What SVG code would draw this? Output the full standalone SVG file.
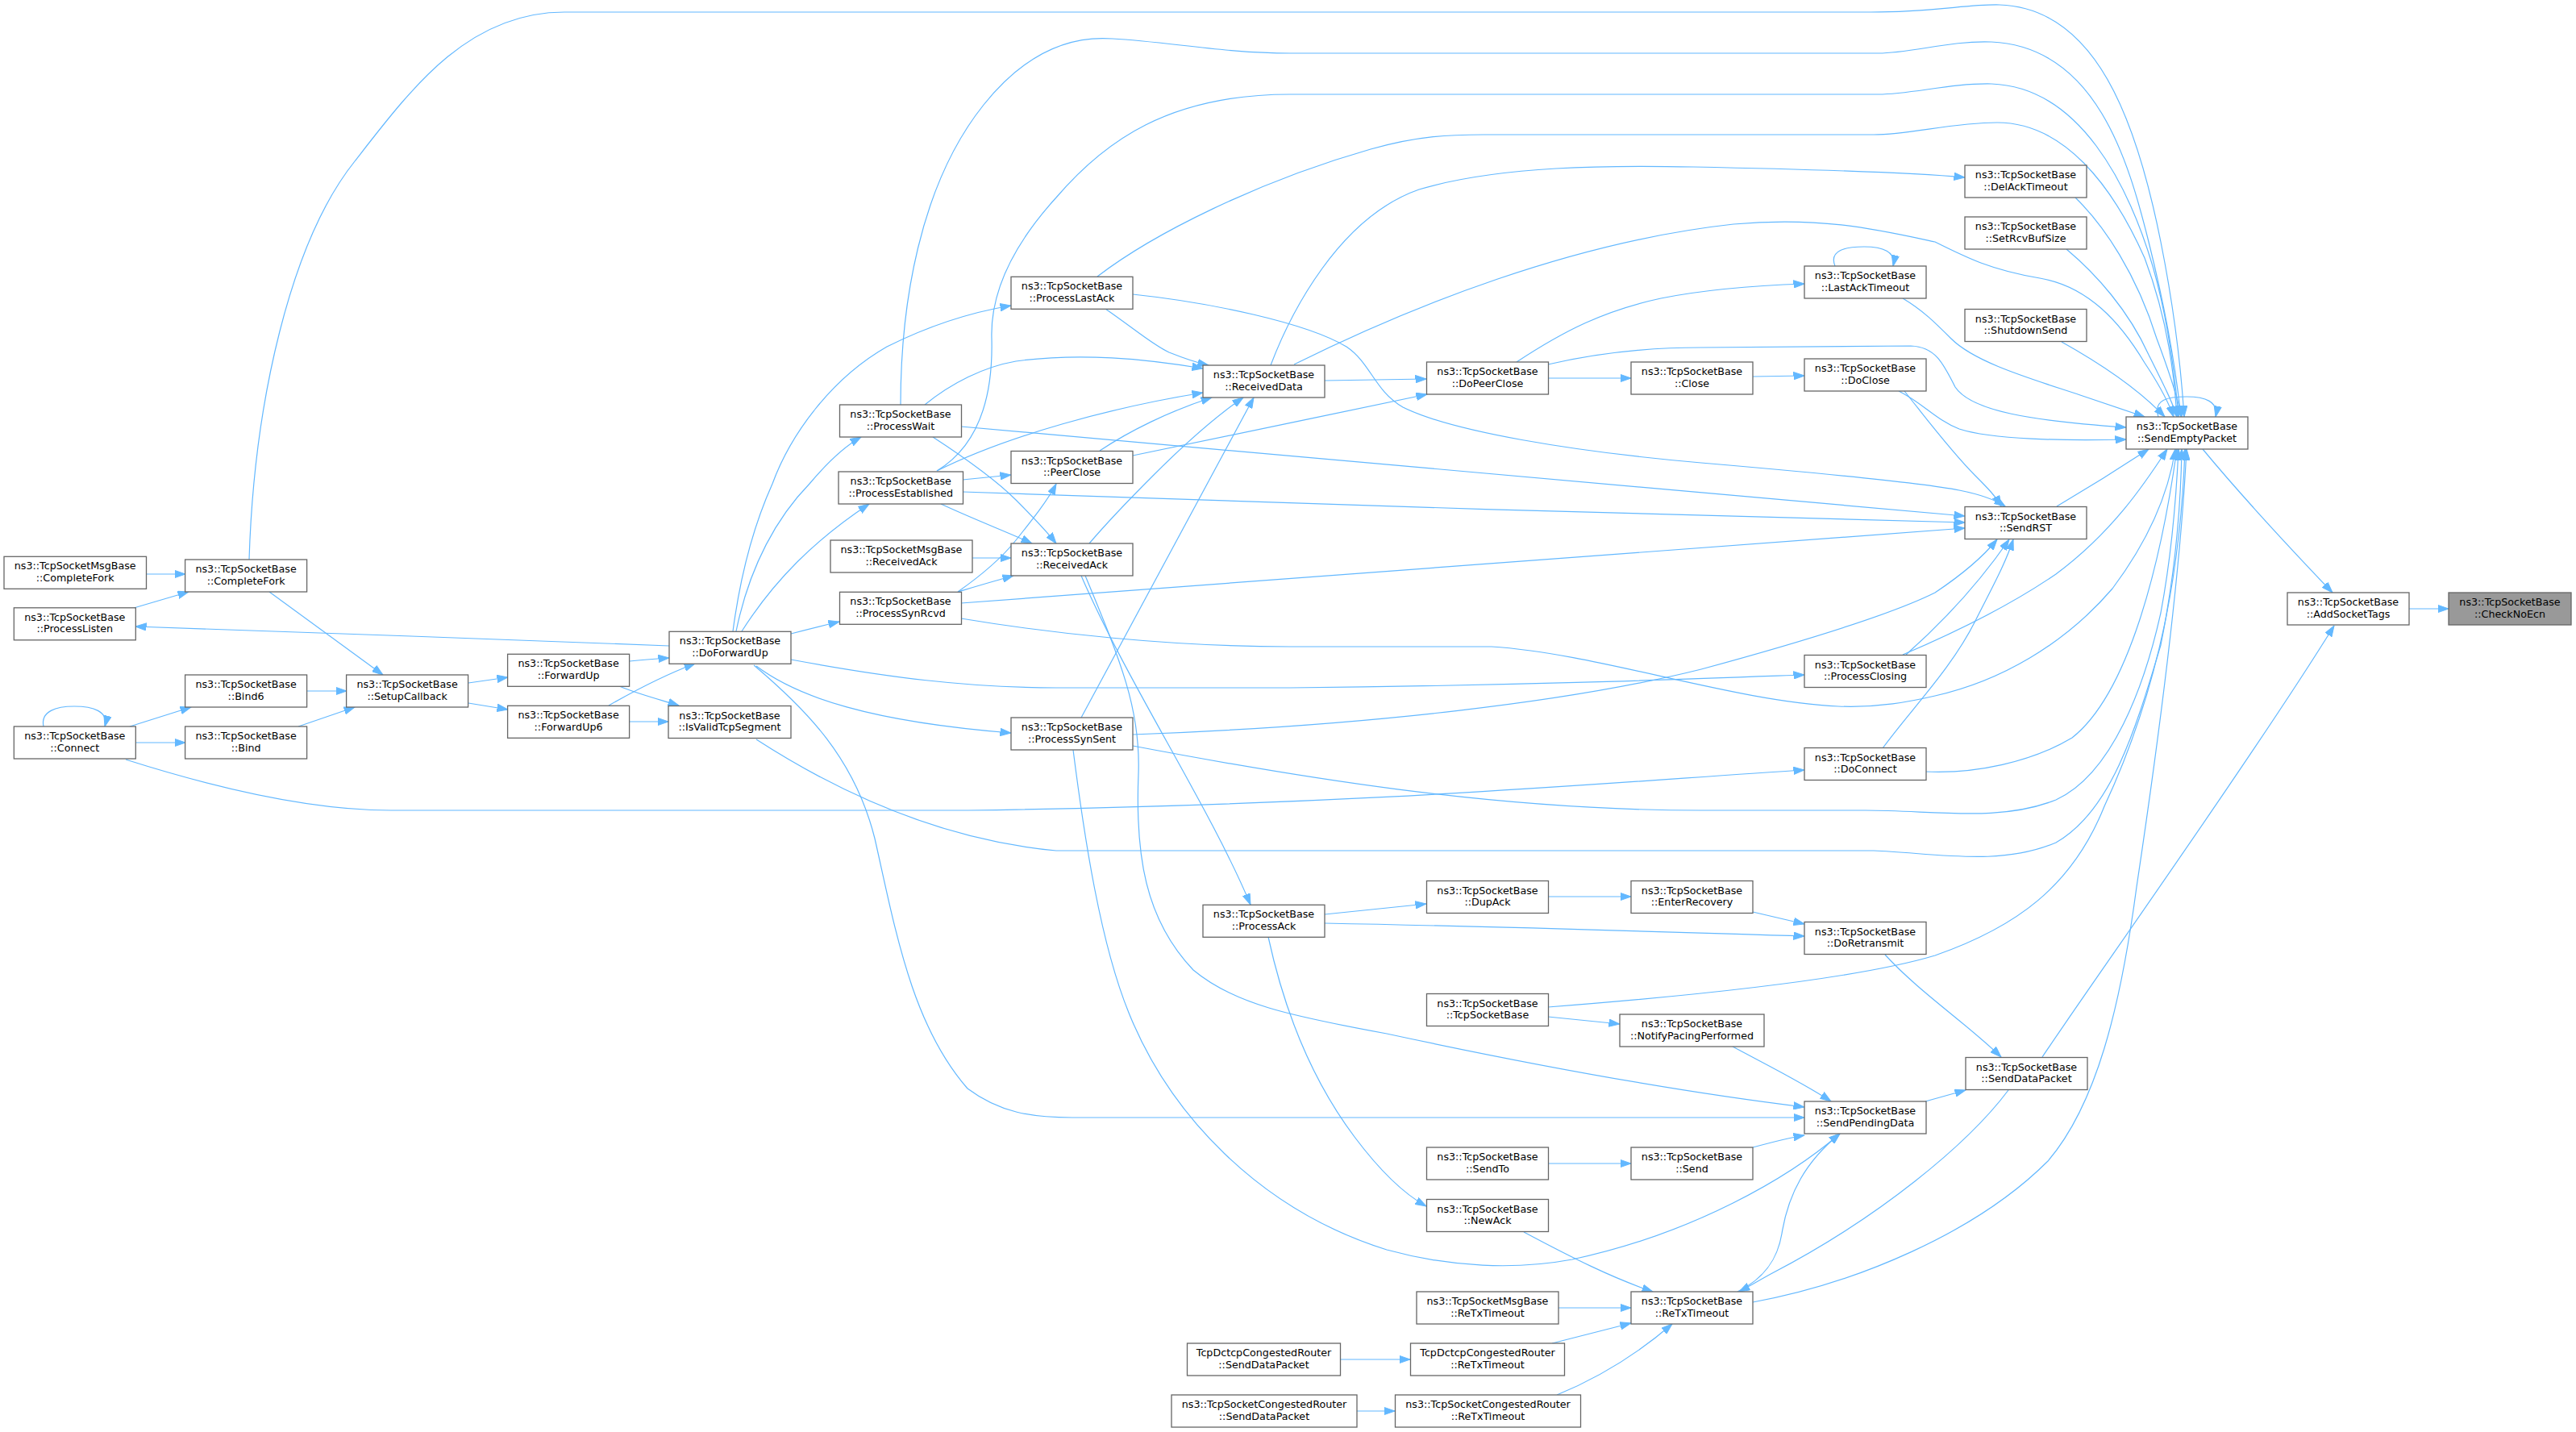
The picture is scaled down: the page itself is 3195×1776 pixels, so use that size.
<svg xmlns="http://www.w3.org/2000/svg" width="3195" height="1776" viewBox="0 0 3195 1776">
<defs>
<style>
.n rect{fill:#ffffff;stroke:#666666;stroke-width:1.3}
.n.f rect{fill:#999999}
.n text{font-family:"DejaVu Sans","Liberation Sans",sans-serif;font-size:12.7px;fill:#000000;text-anchor:middle}
#edges path{fill:none;stroke:#63b8ff;stroke-width:1.2;marker-end:url(#ah)}
</style>
<marker id="ah" markerUnits="userSpaceOnUse" viewBox="0 0 14 10" markerWidth="14" markerHeight="10" refX="13.5" refY="5" orient="auto">
<path d="M0,0.3 L13.5,5 L0,9.7 z" fill="#63b8ff" stroke="#63b8ff" stroke-width="1"/>
</marker>
</defs>
<rect x="0" y="0" width="3195" height="1776" fill="#ffffff"/>
<g id="edges">
<path d="M2988,755 L3037,755"/>
<path d="M2732,557 C2780,615 2850,690 2893,735"/>
<path d="M2533,1311 C2580,1240 2800,930 2895,776"/>
<path d="M2677,517 C2670,495 2690,492 2712,492 C2735,492 2752,498 2748,517"/>
<path d="M309,694 C315,500 360,300 440,200 C510,110 580,15 700,15 L2320,15 C2400,15 2440,5 2480,6 C2600,10 2650,150 2680,300 C2700,400 2706,470 2709,517"/>
<path d="M1117,502 C1117,380 1140,230 1220,130 C1280,55 1340,45 1380,48 C1450,52 1520,66 1600,66 L2330,66 C2370,66 2420,50 2470,52 C2600,58 2640,200 2665,300 C2690,400 2700,470 2705,517"/>
<path d="M1162,584 C1210,555 1232,500 1230,420 C1228,360 1260,300 1310,245 C1370,175 1450,117 1600,117 L2330,117 C2370,117 2420,103 2470,104 C2580,108 2640,230 2670,330 C2690,400 2698,470 2702,517"/>
<path d="M1361,343 C1430,290 1560,225 1700,185 C1760,168 1800,167 1840,167 L2324,167 C2370,167 2420,152 2477,152 C2560,152 2620,230 2660,320 C2690,400 2697,470 2700,517"/>
<path d="M1576,453 C1600,390 1660,270 1760,235 C1860,205 2000,205 2100,207 C2250,210 2370,214 2437,220"/>
<path d="M1605,452 C1750,380 1950,300 2150,278 C2260,268 2330,285 2400,300 C2440,320 2470,335 2530,345 C2590,355 2630,400 2660,450 C2680,480 2690,500 2696,517"/>
<path d="M2574,245 C2610,280 2650,340 2675,420 C2690,460 2700,490 2706,517"/>
<path d="M2563,309 C2600,340 2640,385 2665,440 C2685,480 2695,500 2700,517"/>
<path d="M2557,424 C2600,448 2650,480 2685,517"/>
<path d="M2360,370 C2385,385 2400,400 2420,420 C2450,450 2520,470 2580,490 C2610,500 2640,510 2660,517"/>
<path d="M1920,452 C1980,438 2040,431 2110,431 L2370,429 C2400,430 2410,450 2425,480 C2445,510 2520,522 2637,530"/>
<path d="M2355,485 C2385,500 2400,520 2430,532 C2470,545 2560,547 2637,545"/>
<path d="M2362,485 C2390,520 2420,560 2450,590 C2465,605 2475,615 2482,628"/>
<path d="M2551,628 C2590,605 2630,580 2665,557"/>
<path d="M2360,812 C2400,795 2480,760 2550,712 C2620,660 2660,600 2688,557"/>
<path d="M2364,812 C2400,780 2450,730 2492,669"/>
<path d="M1192,767 C1300,785 1450,802 1600,802 L1850,802 C1980,810 2150,870 2280,876 C2330,878 2370,870 2400,863 C2480,845 2560,800 2620,730 C2665,670 2690,610 2698,557"/>
<path d="M1192,748 L2437,655"/>
<path d="M1192,529 L2437,640"/>
<path d="M1194,610 C1500,622 2100,640 2437,648"/>
<path d="M1405,365 C1500,375 1620,400 1670,430 C1700,450 1705,485 1740,505 C1800,535 1950,560 2110,574 C2250,586 2380,598 2430,608 C2455,613 2475,620 2487,628"/>
<path d="M1405,911 C1700,900 1950,870 2110,830 C2250,792 2350,760 2400,735 C2430,715 2460,690 2477,669"/>
<path d="M1405,925 C1600,962 1850,1005 2110,1005 L2314,1005 C2400,1005 2480,1020 2550,992 C2620,960 2660,850 2680,760 C2695,680 2700,600 2702,557"/>
<path d="M2388,957 C2450,960 2520,945 2570,915 C2640,860 2680,700 2700,557"/>
<path d="M2335,928 C2370,880 2420,830 2450,770 C2470,730 2487,700 2497,669"/>
<path d="M938,917 C1020,970 1150,1040 1310,1055 L2324,1055 C2400,1058 2480,1075 2550,1045 C2620,1005 2650,900 2680,800 C2700,700 2705,620 2706,557"/>
<path d="M1920,1249 C2100,1235 2300,1215 2400,1185 C2500,1150 2570,1100 2610,1000 C2680,850 2705,700 2710,557"/>
<path d="M2174,1615 C2300,1592 2450,1530 2540,1440 C2600,1370 2630,1250 2650,1100 C2680,900 2705,700 2712,557"/>
<path d="M1643,472 L1769,470"/>
<path d="M1920,469 L2023,469"/>
<path d="M2174,467 L2238,466"/>
<path d="M1881,449 C1940,410 1990,385 2060,370 C2120,358 2180,354 2238,352"/>
<path d="M2276,330 C2268,310 2290,306 2312,306 C2335,306 2352,312 2348,330"/>
<path d="M1405,565 C1520,540 1650,515 1770,489"/>
<path d="M1371,383 C1410,410 1430,428 1450,437 C1470,445 1485,450 1499,453"/>
<path d="M1147,502 C1180,475 1220,455 1260,448 C1340,437 1420,445 1492,457"/>
<path d="M1162,584 C1250,540 1380,505 1492,487"/>
<path d="M1364,559 C1400,535 1450,510 1503,493"/>
<path d="M1351,674 C1380,640 1410,610 1430,590 C1470,550 1510,515 1542,493"/>
<path d="M1341,890 L1555,493"/>
<path d="M1341,714 C1400,850 1500,1000 1551,1122"/>
<path d="M1346,714 C1390,820 1415,880 1412,960 C1408,1060 1420,1140 1480,1203 C1530,1245 1600,1260 1720,1282 C1850,1310 2050,1350 2238,1373"/>
<path d="M1157,542 C1200,570 1240,600 1260,620 C1280,640 1295,655 1310,674"/>
<path d="M1167,625 C1210,645 1250,660 1280,674"/>
<path d="M1206,692 L1254,692"/>
<path d="M1188,734 C1215,726 1235,720 1257,714"/>
<path d="M1188,734 C1215,715 1240,695 1260,670 C1280,645 1300,620 1310,600"/>
<path d="M1194,595 L1254,589"/>
<path d="M909,783 C920,700 940,640 958,600 C980,540 1030,470 1100,430 C1150,405 1200,388 1254,379"/>
<path d="M913,783 C930,700 965,640 1004,600 C1025,575 1045,555 1068,542"/>
<path d="M920,783 C960,720 1010,670 1078,625"/>
<path d="M981,786 C1000,781 1020,776 1041,771"/>
<path d="M938,826 C990,865 1080,895 1254,909"/>
<path d="M981,818 C1100,840 1200,853 1310,853 L1600,853 C1900,850 2100,842 2238,837"/>
<path d="M830,801 C600,792 400,785 168,777"/>
<path d="M935,825 C1000,880 1060,940 1085,1040 C1110,1150 1130,1270 1200,1350 C1240,1380 1280,1386 1330,1386 L2238,1386"/>
<path d="M781,820 C800,818 815,817 830,816"/>
<path d="M755,875 C790,855 830,835 862,823"/>
<path d="M768,851 C795,862 820,868 842,875"/>
<path d="M781,895 L829,895"/>
<path d="M581,847 L630,840"/>
<path d="M581,872 L630,880"/>
<path d="M381,857 L430,857"/>
<path d="M370,901 L440,877"/>
<path d="M334,734 L475,837"/>
<path d="M182,712 L230,712"/>
<path d="M166,754 L234,734"/>
<path d="M161,901 L237,877"/>
<path d="M168,921 L230,921"/>
<path d="M54,901 C50,882 70,876 92,876 C115,876 135,882 130,901"/>
<path d="M156,942 C260,975 380,1005 485,1005 L1200,1005 C1700,998 2000,970 2238,955"/>
<path d="M1643,1134 L1769,1121"/>
<path d="M1643,1145 C1900,1150 2100,1157 2238,1161"/>
<path d="M1920,1112 L2023,1112"/>
<path d="M2174,1131 L2238,1146"/>
<path d="M2338,1184 C2380,1230 2440,1270 2482,1311"/>
<path d="M2388,1366 L2438,1352"/>
<path d="M2491,1352 C2440,1420 2330,1510 2200,1578 C2185,1586 2172,1594 2157,1602"/>
<path d="M2155,1602 C2190,1585 2205,1560 2210,1530 C2218,1480 2240,1440 2282,1406"/>
<path d="M2149,1298 C2190,1320 2240,1345 2271,1366"/>
<path d="M2174,1423 C2200,1416 2220,1411 2238,1408"/>
<path d="M1331,930 C1345,1040 1365,1170 1400,1256 C1450,1380 1560,1500 1720,1550 C1800,1572 1880,1575 1950,1562 C2100,1530 2220,1460 2282,1406"/>
<path d="M1920,1261 L2009,1270"/>
<path d="M1920,1443 L2023,1443"/>
<path d="M1573,1162 C1590,1240 1620,1330 1680,1410 C1710,1450 1740,1480 1769,1496"/>
<path d="M1890,1528 C1950,1560 2000,1585 2050,1602"/>
<path d="M1933,1622 L2023,1622"/>
<path d="M1925,1666 L2023,1641"/>
<path d="M1931,1730 C1980,1710 2030,1680 2074,1642"/>
<path d="M1663,1686 L1749,1686"/>
<path d="M1683,1750 L1730,1750"/>
</g>
<g id="n_CheckNoEcn" class="n f"><rect x="3037" y="735" width="152" height="40"/><text x="3113" y="751">ns3::TcpSocketBase</text><text x="3113" y="765.5">::CheckNoEcn</text></g>
<g id="n_AddSocketTags" class="n"><rect x="2837" y="735" width="151" height="40"/><text x="2912.5" y="751">ns3::TcpSocketBase</text><text x="2912.5" y="765.5">::AddSocketTags</text></g>
<g id="n_SendEmptyPacket" class="n"><rect x="2637" y="517" width="151" height="40"/><text x="2712.5" y="533">ns3::TcpSocketBase</text><text x="2712.5" y="547.5">::SendEmptyPacket</text></g>
<g id="n_DelAckTimeout" class="n"><rect x="2437" y="205" width="151" height="40"/><text x="2512.5" y="221">ns3::TcpSocketBase</text><text x="2512.5" y="235.5">::DelAckTimeout</text></g>
<g id="n_SetRcvBufSize" class="n"><rect x="2437" y="269" width="151" height="40"/><text x="2512.5" y="285">ns3::TcpSocketBase</text><text x="2512.5" y="299.5">::SetRcvBufSize</text></g>
<g id="n_ShutdownSend" class="n"><rect x="2437" y="383.5" width="151" height="40"/><text x="2512.5" y="399.5">ns3::TcpSocketBase</text><text x="2512.5" y="414">::ShutdownSend</text></g>
<g id="n_SendRST" class="n"><rect x="2437" y="628.5" width="151" height="40"/><text x="2512.5" y="644.5">ns3::TcpSocketBase</text><text x="2512.5" y="659">::SendRST</text></g>
<g id="n_SendDataPacket" class="n"><rect x="2438" y="1311.5" width="151" height="40"/><text x="2513.5" y="1327.5">ns3::TcpSocketBase</text><text x="2513.5" y="1342">::SendDataPacket</text></g>
<g id="n_LastAckTimeout" class="n"><rect x="2238" y="330" width="151" height="40"/><text x="2313.5" y="346">ns3::TcpSocketBase</text><text x="2313.5" y="360.5">::LastAckTimeout</text></g>
<g id="n_DoClose" class="n"><rect x="2238" y="445" width="151" height="40"/><text x="2313.5" y="461">ns3::TcpSocketBase</text><text x="2313.5" y="475.5">::DoClose</text></g>
<g id="n_ProcessClosing" class="n"><rect x="2238" y="812.5" width="151" height="40"/><text x="2313.5" y="828.5">ns3::TcpSocketBase</text><text x="2313.5" y="843">::ProcessClosing</text></g>
<g id="n_DoConnect" class="n"><rect x="2238" y="927.5" width="151" height="40"/><text x="2313.5" y="943.5">ns3::TcpSocketBase</text><text x="2313.5" y="958">::DoConnect</text></g>
<g id="n_DoRetransmit" class="n"><rect x="2238" y="1143.5" width="151" height="40"/><text x="2313.5" y="1159.5">ns3::TcpSocketBase</text><text x="2313.5" y="1174">::DoRetransmit</text></g>
<g id="n_SendPendingData" class="n"><rect x="2238" y="1366" width="151" height="40"/><text x="2313.5" y="1382">ns3::TcpSocketBase</text><text x="2313.5" y="1396.5">::SendPendingData</text></g>
<g id="n_Close" class="n"><rect x="2023" y="449" width="151" height="40"/><text x="2098.5" y="465">ns3::TcpSocketBase</text><text x="2098.5" y="479.5">::Close</text></g>
<g id="n_EnterRecovery" class="n"><rect x="2023" y="1092.5" width="151" height="40"/><text x="2098.5" y="1108.5">ns3::TcpSocketBase</text><text x="2098.5" y="1123">::EnterRecovery</text></g>
<g id="n_NotifyPacingPerformed" class="n"><rect x="2009" y="1258" width="179" height="40"/><text x="2098.5" y="1274">ns3::TcpSocketBase</text><text x="2098.5" y="1288.5">::NotifyPacingPerformed</text></g>
<g id="n_Send" class="n"><rect x="2023" y="1423" width="151" height="40"/><text x="2098.5" y="1439">ns3::TcpSocketBase</text><text x="2098.5" y="1453.5">::Send</text></g>
<g id="n_ReTxTimeout" class="n"><rect x="2023" y="1602" width="151" height="40"/><text x="2098.5" y="1618">ns3::TcpSocketBase</text><text x="2098.5" y="1632.5">::ReTxTimeout</text></g>
<g id="n_DoPeerClose" class="n"><rect x="1769.5" y="449" width="151" height="40"/><text x="1845" y="465">ns3::TcpSocketBase</text><text x="1845" y="479.5">::DoPeerClose</text></g>
<g id="n_DupAck" class="n"><rect x="1769.5" y="1092.5" width="151" height="40"/><text x="1845" y="1108.5">ns3::TcpSocketBase</text><text x="1845" y="1123">::DupAck</text></g>
<g id="n_TcpSocketBase" class="n"><rect x="1769.5" y="1232.5" width="151" height="40"/><text x="1845" y="1248.5">ns3::TcpSocketBase</text><text x="1845" y="1263">::TcpSocketBase</text></g>
<g id="n_SendTo" class="n"><rect x="1769.5" y="1423" width="151" height="40"/><text x="1845" y="1439">ns3::TcpSocketBase</text><text x="1845" y="1453.5">::SendTo</text></g>
<g id="n_NewAck" class="n"><rect x="1769.5" y="1487.5" width="151" height="40"/><text x="1845" y="1503.5">ns3::TcpSocketBase</text><text x="1845" y="1518">::NewAck</text></g>
<g id="n_MsgReTxTimeout" class="n"><rect x="1757" y="1602" width="176" height="40"/><text x="1845" y="1618">ns3::TcpSocketMsgBase</text><text x="1845" y="1632.5">::ReTxTimeout</text></g>
<g id="n_DctcpReTxTimeout" class="n"><rect x="1749.5" y="1666" width="191" height="40"/><text x="1845" y="1682">TcpDctcpCongestedRouter</text><text x="1845" y="1696.5">::ReTxTimeout</text></g>
<g id="n_CRReTxTimeout" class="n"><rect x="1730.5" y="1730" width="230" height="40"/><text x="1845.5" y="1746">ns3::TcpSocketCongestedRouter</text><text x="1845.5" y="1760.5">::ReTxTimeout</text></g>
<g id="n_ReceivedData" class="n"><rect x="1492" y="453" width="151" height="40"/><text x="1567.5" y="469">ns3::TcpSocketBase</text><text x="1567.5" y="483.5">::ReceivedData</text></g>
<g id="n_ProcessAck" class="n"><rect x="1492" y="1122.3" width="151" height="40"/><text x="1567.5" y="1138.3">ns3::TcpSocketBase</text><text x="1567.5" y="1152.8">::ProcessAck</text></g>
<g id="n_DctcpSendDataPacket" class="n"><rect x="1472.5" y="1666" width="190" height="40"/><text x="1567.5" y="1682">TcpDctcpCongestedRouter</text><text x="1567.5" y="1696.5">::SendDataPacket</text></g>
<g id="n_CRSendDataPacket" class="n"><rect x="1453" y="1730" width="230" height="40"/><text x="1568" y="1746">ns3::TcpSocketCongestedRouter</text><text x="1568" y="1760.5">::SendDataPacket</text></g>
<g id="n_ProcessLastAck" class="n"><rect x="1254" y="343.3" width="151" height="40"/><text x="1329.5" y="359.3">ns3::TcpSocketBase</text><text x="1329.5" y="373.8">::ProcessLastAck</text></g>
<g id="n_PeerClose" class="n"><rect x="1254" y="559.5" width="151" height="40"/><text x="1329.5" y="575.5">ns3::TcpSocketBase</text><text x="1329.5" y="590">::PeerClose</text></g>
<g id="n_ReceivedAck" class="n"><rect x="1254" y="674" width="151" height="40"/><text x="1329.5" y="690">ns3::TcpSocketBase</text><text x="1329.5" y="704.5">::ReceivedAck</text></g>
<g id="n_ProcessSynSent" class="n"><rect x="1254" y="890" width="151" height="40"/><text x="1329.5" y="906">ns3::TcpSocketBase</text><text x="1329.5" y="920.5">::ProcessSynSent</text></g>
<g id="n_ProcessWait" class="n"><rect x="1041.5" y="502" width="151" height="40"/><text x="1117" y="518">ns3::TcpSocketBase</text><text x="1117" y="532.5">::ProcessWait</text></g>
<g id="n_ProcessEstablished" class="n"><rect x="1040" y="585" width="154.5" height="40"/><text x="1117.25" y="601">ns3::TcpSocketBase</text><text x="1117.25" y="615.5">::ProcessEstablished</text></g>
<g id="n_MsgReceivedAck" class="n"><rect x="1030" y="670" width="176" height="40"/><text x="1118" y="686">ns3::TcpSocketMsgBase</text><text x="1118" y="700.5">::ReceivedAck</text></g>
<g id="n_ProcessSynRcvd" class="n"><rect x="1041.5" y="734.3" width="151" height="40"/><text x="1117" y="750.3">ns3::TcpSocketBase</text><text x="1117" y="764.8">::ProcessSynRcvd</text></g>
<g id="n_DoForwardUp" class="n"><rect x="830" y="783.3" width="151" height="40"/><text x="905.5" y="799.3">ns3::TcpSocketBase</text><text x="905.5" y="813.8">::DoForwardUp</text></g>
<g id="n_IsValidTcpSegment" class="n"><rect x="829" y="875.5" width="152" height="40"/><text x="905" y="891.5">ns3::TcpSocketBase</text><text x="905" y="906">::IsValidTcpSegment</text></g>
<g id="n_ForwardUp" class="n"><rect x="629.6" y="811.3" width="151" height="40"/><text x="705.1" y="827.3">ns3::TcpSocketBase</text><text x="705.1" y="841.8">::ForwardUp</text></g>
<g id="n_ForwardUp6" class="n"><rect x="629.6" y="875.3" width="151" height="40"/><text x="705.1" y="891.3">ns3::TcpSocketBase</text><text x="705.1" y="905.8">::ForwardUp6</text></g>
<g id="n_SetupCallback" class="n"><rect x="429.6" y="837" width="151" height="40"/><text x="505.1" y="853">ns3::TcpSocketBase</text><text x="505.1" y="867.5">::SetupCallback</text></g>
<g id="n_CompleteFork" class="n"><rect x="229.6" y="694" width="151" height="40"/><text x="305.1" y="710">ns3::TcpSocketBase</text><text x="305.1" y="724.5">::CompleteFork</text></g>
<g id="n_Bind6" class="n"><rect x="229.6" y="837" width="151" height="40"/><text x="305.1" y="853">ns3::TcpSocketBase</text><text x="305.1" y="867.5">::Bind6</text></g>
<g id="n_Bind" class="n"><rect x="229.6" y="901" width="151" height="40"/><text x="305.1" y="917">ns3::TcpSocketBase</text><text x="305.1" y="931.5">::Bind</text></g>
<g id="n_MsgCompleteFork" class="n"><rect x="5" y="690.3" width="176.5" height="40"/><text x="93.25" y="706.3">ns3::TcpSocketMsgBase</text><text x="93.25" y="720.8">::CompleteFork</text></g>
<g id="n_ProcessListen" class="n"><rect x="17.3" y="753.8" width="151" height="40"/><text x="92.8" y="769.8">ns3::TcpSocketBase</text><text x="92.8" y="784.3">::ProcessListen</text></g>
<g id="n_Connect" class="n"><rect x="17.3" y="901" width="151" height="40"/><text x="92.8" y="917">ns3::TcpSocketBase</text><text x="92.8" y="931.5">::Connect</text></g>
</svg>
